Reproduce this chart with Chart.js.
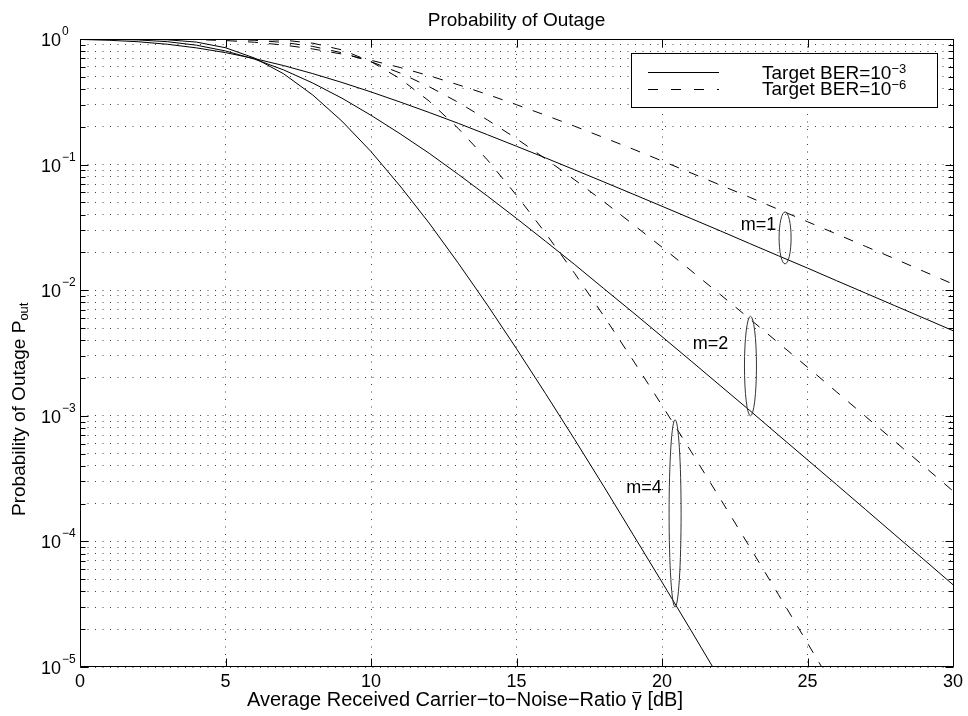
<!DOCTYPE html>
<html>
<head>
<meta charset="utf-8">
<title>Probability of Outage</title>
<script src="https://cdn.jsdelivr.net/npm/chart.js@4.4.1/dist/chart.umd.min.js"></script>
<style>
  html, body { margin: 0; padding: 0; background: #ffffff; }
  canvas { display: block; }
</style>
</head>
<body>
<canvas id="outageChart" width="968" height="716"></canvas>
<script>
const FONT = "'Liberation Sans', Arial, Helvetica, sans-serif";

// average received CNR [dB]
const snrDb = [0, 1, 2, 3, 4, 5, 6, 7, 8, 9, 10, 11, 12, 13, 14, 15, 16, 17, 18, 19, 20,
  21, 22, 23, 24, 25, 26, 27, 28, 29, 30];

// target BER = 1e-3 (solid)
const solidM1 = [0.992, 0.977, 0.951, 0.908, 0.850, 0.779, 0.698, 0.614, 0.530, 0.451, 0.379,
  0.315, 0.260, 0.213, 0.173, 0.140, 0.113, 0.0908, 0.0728, 0.0583, 0.0466,
  0.0372, 0.0297, 0.0236, 0.0188, 0.0150, 0.0119, 0.00947, 0.00753, 0.00599, 0.00476];
const solidM2 = [0.999, 0.996, 0.983, 0.952, 0.893, 0.803, 0.691, 0.567, 0.446, 0.338, 0.247,
  0.176, 0.123, 0.0836, 0.0562, 0.0373, 0.0245, 0.0160, 0.0103, 0.00666, 0.00427,
  0.00273, 0.00174, 0.00111, 0.000703, 0.000446, 0.000283, 0.000179, 0.000113, 0.0000716, 0.0000452];
const solidM4 = [1.0, 0.9998, 0.998, 0.986, 0.945, 0.852, 0.705, 0.528, 0.358, 0.222, 0.127,
  0.0675, 0.0342, 0.0164, 0.00762, 0.00342, 0.00150, 0.000647, 0.000274, 0.000114, 0.0000474,
  0.0000195, 0.00000795];

// target BER = 1e-6 (dashed)
const dashedM1 = [1.0, 0.9999, 0.999, 0.997, 0.989, 0.972, 0.942, 0.895, 0.833, 0.759, 0.677,
  0.593, 0.510, 0.432, 0.362, 0.300, 0.247, 0.202, 0.164, 0.133, 0.107,
  0.0858, 0.0688, 0.0551, 0.0440, 0.0351, 0.0280, 0.0223, 0.0178, 0.0141, 0.0112];
const dashedM2 = [1.0, 1.0, 1.0, 0.9999, 0.999, 0.994, 0.977, 0.939, 0.873, 0.777, 0.660,
  0.536, 0.417, 0.313, 0.227, 0.161, 0.111, 0.0756, 0.0507, 0.0335, 0.0220,
  0.0143, 0.00925, 0.00595, 0.00381, 0.00244, 0.00155, 0.000986, 0.000626, 0.000397, 0.000252];
const dashedM4 = [1.0, 1.0, 1.0, 1.0, 1.0, 0.9996, 0.996, 0.979, 0.926, 0.819, 0.661,
  0.483, 0.320, 0.194, 0.109, 0.0570, 0.0284, 0.0136, 0.00623, 0.00278, 0.00121,
  0.000520, 0.000219, 0.0000915, 0.0000378, 0.0000155, 0.00000632];

const xTicks = [0, 5, 10, 15, 20, 25, 30];
const yDecades = [1e-5, 1e-4, 1e-3, 1e-2, 1e-1, 1];
const yDecadeExp = ["\u22125", "\u22124", "\u22123", "\u22122", "\u22121", "0"];
const yMinorSteps = [2, 3, 4, 5, 6, 7, 8, 9];

const legendText = ["Target BER=10", "Target BER=10"];
const legendExp = ["\u22123", "\u22126"];

// m annotations (ellipse spans and label anchors, in data units)
const annotLabels = ["m=1", "m=2", "m=4"];
const annotX = [24.23, 23.04, 20.45];
const annotTop = [0.042, 0.0062, 0.00093];
const annotBottom = [0.0162, 0.0010, 0.00003];
const annotLabelX = [23.93, 22.28, 19.99];
const annotLabelY = [0.0301, 0.0034, 0.000243];

const yTickValues = [];
yDecades.forEach((d, i) => {
  yTickValues.push(d);
  if (i < yDecades.length - 1) yMinorSteps.forEach((s) => yTickValues.push(d * s));
});

function isDecade(v) {
  return yDecades.some((d) => Math.abs(Math.log10(v) - Math.log10(d)) < 1e-6);
}

function makeSet(label, values, dashed) {
  return {
    label,
    data: values.map((y, i) => ({ x: snrDb[i], y })),
    borderColor: "#000",
    borderWidth: 1,
    borderDash: dashed ? [10, 11] : [],
    pointRadius: 0,
    tension: 0,
    fill: false,
  };
}

function drawSup(ctx, x, y, base, sup, baseSize, supSize, rise) {
  ctx.font = `${baseSize}px ${FONT}`;
  ctx.textAlign = "left";
  ctx.fillText(base, x, y);
  const w = ctx.measureText(base).width;
  ctx.font = `${supSize}px ${FONT}`;
  ctx.fillText(sup, x + w, y - rise);
}

const outageDecor = {
  id: "outageDecor",
  afterDraw(chart) {
    const { ctx, chartArea: a } = chart;
    const x = chart.scales.x;
    const y = chart.scales.y;
    ctx.save();
    ctx.setLineDash([]);
    ctx.strokeStyle = "#000";
    ctx.fillStyle = "#000";
    ctx.lineWidth = 1;
    ctx.textBaseline = "alphabetic";

    // axes box + inward ticks
    const L = Math.round(a.left) + 0.5;
    const R = Math.round(a.right) + 0.5;
    const T = Math.round(a.top) + 0.5;
    const B = Math.round(a.bottom) - 0.5;
    ctx.beginPath();
    ctx.rect(L, T, R - L, B - T);
    xTicks.forEach((v) => {
      const px = Math.round(x.getPixelForValue(v)) + 0.5;
      ctx.moveTo(px, B); ctx.lineTo(px, B - 8);
      ctx.moveTo(px, T); ctx.lineTo(px, T + 8);
    });
    yTickValues.forEach((v) => {
      const py = Math.round(y.getPixelForValue(v)) + 0.5;
      const len = isDecade(v) ? 8 : 5;
      ctx.moveTo(L, py); ctx.lineTo(L + len, py);
      ctx.moveTo(R, py); ctx.lineTo(R - len, py);
    });
    ctx.stroke();

    // y tick labels 10^k
    yDecades.forEach((d, i) => {
      const py = y.getPixelForValue(d);
      ctx.font = `18px ${FONT}`;
      ctx.textAlign = "right";
      ctx.fillText("10", a.left - 19, py + 7);
      ctx.font = `12px ${FONT}`;
      ctx.textAlign = "left";
      ctx.fillText(yDecadeExp[i], a.left - 18, py - 4);
    });

    // title
    ctx.font = `19px ${FONT}`;
    ctx.textAlign = "center";
    ctx.fillText("Probability of Outage", (a.left + a.right) / 2, 26);

    // x title, with a bar over gamma
    ctx.font = `20px ${FONT}`;
    ctx.textAlign = "left";
    const xt1 = "Average Received Carrier\u2212to\u2212Noise\u2212Ratio ";
    let tx = 247;
    ctx.fillText(xt1, tx, 706);
    tx += ctx.measureText(xt1).width;
    const gw = ctx.measureText("\u03B3").width;
    ctx.fillText("\u03B3", tx, 706);
    ctx.beginPath();
    ctx.moveTo(tx + 1, 692.5);
    ctx.lineTo(tx + gw - 1, 692.5);
    ctx.stroke();
    tx += gw;
    ctx.fillText(" [dB]", tx, 706);

    // y title
    ctx.save();
    ctx.translate(24.5, 516);
    ctx.rotate(-Math.PI / 2);
    ctx.font = `19px ${FONT}`;
    ctx.fillText("Probability of Outage P", 0, 0);
    const tw = ctx.measureText("Probability of Outage P").width;
    ctx.font = `13px ${FONT}`;
    ctx.fillText("out", tw, 3);
    ctx.restore();

    // m annotations
    ctx.strokeStyle = "#333";
    annotLabels.forEach((lab, i) => {
      const cx = x.getPixelForValue(annotX[i]);
      const yt = y.getPixelForValue(annotTop[i]);
      const yb = y.getPixelForValue(annotBottom[i]);
      ctx.beginPath();
      ctx.ellipse(cx, (yt + yb) / 2, 6, (yb - yt) / 2, 0, 0, Math.PI * 2);
      ctx.stroke();
      ctx.font = `18px ${FONT}`;
      ctx.textAlign = "right";
      ctx.fillText(lab, x.getPixelForValue(annotLabelX[i]), y.getPixelForValue(annotLabelY[i]));
    });

    // legend
    const lx = a.right - 322;
    const ly = a.top + 14;
    ctx.fillStyle = "#fff";
    ctx.fillRect(lx, ly, 306, 54);
    ctx.strokeStyle = "#000";
    ctx.strokeRect(lx + 0.5, ly + 0.5, 306, 54);
    ctx.fillStyle = "#000";
    [false, true].forEach((dashed, i) => {
      const yy = ly + 19 + i * 17 + 0.5;
      ctx.setLineDash(dashed ? [10, 13] : []);
      ctx.beginPath();
      ctx.moveTo(lx + 17, yy);
      ctx.lineTo(lx + 88, yy);
      ctx.stroke();
      ctx.setLineDash([]);
      drawSup(ctx, lx + 131, ly + 26 + i * 16, legendText[i], legendExp[i], 19, 13, 6);
    });
    ctx.restore();
  },
};

new Chart(document.getElementById("outageChart"), {
  type: "line",
  data: {
    datasets: [
      makeSet("m=1, BER 1e-3", solidM1, false),
      makeSet("m=2, BER 1e-3", solidM2, false),
      makeSet("m=4, BER 1e-3", solidM4, false),
      makeSet("m=1, BER 1e-6", dashedM1, true),
      makeSet("m=2, BER 1e-6", dashedM2, true),
      makeSet("m=4, BER 1e-6", dashedM4, true),
    ],
  },
  options: {
    responsive: false,
    animation: false,
    devicePixelRatio: 1,
    layout: { padding: { left: 0, right: 15, top: 39, bottom: 0 } },
    plugins: {
      legend: { display: false },
      title: { display: false },
      tooltip: { enabled: false },
    },
    scales: {
      x: {
        type: "linear",
        min: 0,
        max: 30,
        afterBuildTicks: (s) => { s.ticks = xTicks.map((v) => ({ value: v })); },
        afterFit: (s) => { s.height = 49; },
        ticks: { color: "#000", font: { family: FONT, size: 18 }, padding: 4, maxRotation: 0, autoSkip: false },
        grid: { color: "#444", lineWidth: 1, drawTicks: false },
        border: { display: false, dash: [1, 6.5] },
      },
      y: {
        type: "logarithmic",
        min: 1e-5,
        max: 1,
        afterBuildTicks: (s) => { s.ticks = yTickValues.map((v) => ({ value: v })); },
        afterFit: (s) => { s.width = 80; },
        ticks: { display: false },
        grid: { color: "#444", lineWidth: 1, drawTicks: false },
        border: { display: false, dash: [1, 6.5] },
      },
    },
  },
  plugins: [outageDecor],
});
</script>
</body>
</html>
